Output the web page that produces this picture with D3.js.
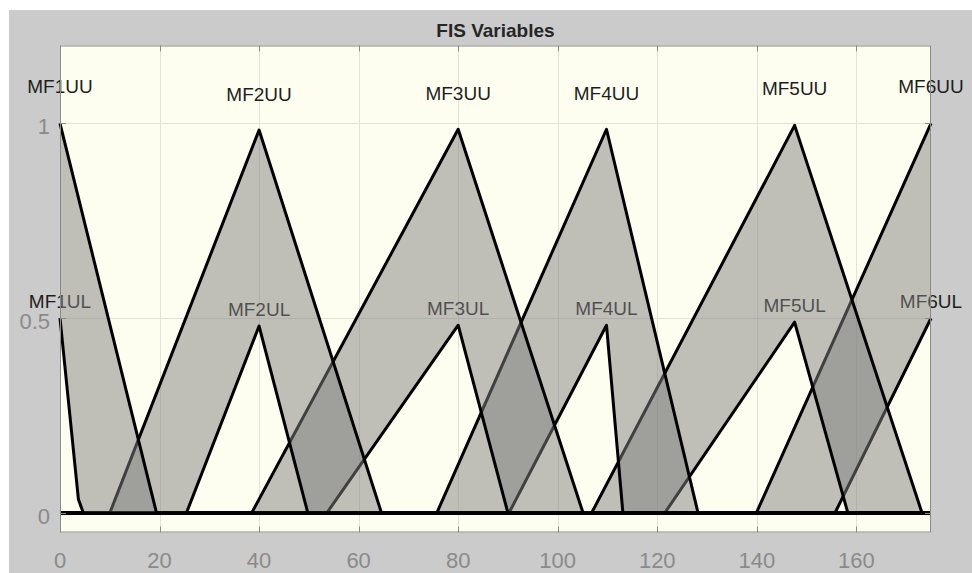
<!DOCTYPE html>
<html>
<head>
<meta charset="utf-8">
<script src="https://cdn.jsdelivr.net/npm/d3@7"></script>
<style>
  html, body { margin: 0; padding: 0; background: #ffffff; }
  svg { display: block; }
  text { font-family: "Liberation Sans", Arial, Helvetica, sans-serif; }
</style>
</head>
<body>
<svg id="chart" width="972" height="573"></svg>
<script>
// ---------------- data ----------------
const chartTitle = "FIS Variables";
const mfNames = ["MF1", "MF2", "MF3", "MF4", "MF5", "MF6"];
// upper membership functions: [x, membership] vertices
const upperMF = [
  [[0, 1], [19.4, 0]],
  [[10.0, 0], [40, 0.983], [64.6, 0]],
  [[38.5, 0], [80, 0.985], [105.1, 0]],
  [[75.7, 0], [109.8, 0.985], [128.2, 0]],
  [[106.8, 0], [147.6, 0.995], [173.2, 0]],
  [[139.9, 0], [175, 1]]
];
// lower membership functions: [x, membership] vertices
const lowerMF = [
  [[0, 0.5], [3.7, 0.035], [4.7, 0]],
  [[25.4, 0], [40, 0.48], [49.8, 0]],
  [[53.6, 0], [80, 0.482], [90.0, 0]],
  [[90.2, 0], [109.8, 0.482], [113.1, 0]],
  [[121.5, 0], [147.6, 0.49], [158.3, 0]],
  [[155.7, 0], [175, 0.5]]
];
const xDomain = [0, 175];
const yDomain = [-0.05, 1.2];
const xTicks = [0, 20, 40, 60, 80, 100, 120, 140, 160];
const yTicks = [0, 0.5, 1];
const yTickLabels = ["0", "0.5", "1"];

// ---------------- layout ----------------
const svg = d3.select("#chart");
const L = 60, R = 931, T = 45.5, B = 532.5;
const x = d3.scaleLinear().domain(xDomain).range([L, R]);
const y = d3.scaleLinear().domain(yDomain).range([B, T]);

// figure background
svg.append("rect").attr("x", 9).attr("y", 10).attr("width", 963).attr("height", 563).attr("fill", "#cbcbcb");
// axes background
svg.append("rect").attr("x", L).attr("y", T).attr("width", R - L).attr("height", B - T).attr("fill", "#fefef0");

// grid
const grid = svg.append("g").attr("stroke", "#e2e2d6").attr("stroke-width", 1);
grid.selectAll("line.vx").data(xTicks).join("line")
  .attr("x1", d => Math.round(x(d)) + 0.5).attr("x2", d => Math.round(x(d)) + 0.5)
  .attr("y1", T).attr("y2", B);
grid.selectAll("line.hy").data(yTicks).join("line")
  .attr("y1", d => Math.round(y(d)) + 0.5).attr("y2", d => Math.round(y(d)) + 0.5)
  .attr("x1", L).attr("x2", R);

// labels (drawn beneath the patches)
const labelG = svg.append("g").attr("font-size", 19).attr("fill", "#1e1e1e").attr("text-anchor", "middle");
function peakOf(pts) { return pts.reduce((a, b) => (b[1] > a[1] ? b : a)); }
mfNames.forEach((n, i) => {
  const pu = peakOf(upperMF[i]);
  const pl = peakOf(lowerMF[i]);
  labelG.append("text").attr("x", x(pu[0])).attr("y", y(pu[1] * 1.095)).attr("dy", "0.36em").text(n + "UU");
  labelG.append("text").attr("x", x(pl[0])).attr("y", y(pl[1] * 1.09)).attr("dy", "0.36em").text(n + "UL");
});

// membership functions
function fullPath(pts) {
  const p = pts.slice();
  if (p[0][0] > xDomain[0]) p.unshift([xDomain[0], 0]);
  if (p[p.length - 1][0] < xDomain[1]) p.push([xDomain[1], 0]);
  return p;
}
const line = d3.line().x(d => x(d[0])).y(d => y(d[1]));
const mfG = svg.append("g");
for (let i = mfNames.length - 1; i >= 0; i--) {
  const up = fullPath(upperMF[i]);
  const lo = fullPath(lowerMF[i]);
  const poly = up.concat(lo.slice().reverse());
  mfG.append("path").attr("d", line(poly) + "Z")
    .attr("fill", "#808080").attr("fill-opacity", 0.5).attr("stroke", "none");
  [up, lo].forEach(p => {
    mfG.append("path").attr("d", line(p))
      .attr("fill", "none").attr("stroke", "#000").attr("stroke-width", 3)
      .attr("stroke-linejoin", "round").attr("stroke-linecap", "butt");
  });
}

// axes box and ticks
const axG = svg.append("g").attr("stroke", "#8a8a8a").attr("stroke-width", 1).attr("fill", "none");
axG.append("rect").attr("x", L + 0.5).attr("y", T + 0.5).attr("width", R - L - 1).attr("height", B - T - 1);
const tl = 6;
xTicks.forEach(t => {
  const px = Math.round(x(t)) + 0.5;
  axG.append("line").attr("x1", px).attr("x2", px).attr("y1", B).attr("y2", B - tl);
  axG.append("line").attr("x1", px).attr("x2", px).attr("y1", T).attr("y2", T + tl);
});
yTicks.forEach(t => {
  const py = Math.round(y(t)) + 0.5;
  axG.append("line").attr("x1", L).attr("x2", L + tl).attr("y1", py).attr("y2", py);
  axG.append("line").attr("x1", R).attr("x2", R - tl).attr("y1", py).attr("y2", py);
});

// tick labels
const tickG = svg.append("g").attr("font-size", 22).attr("fill", "#8a8a8a");
tickG.selectAll("text.xt").data(xTicks).join("text")
  .attr("x", d => x(d)).attr("y", 560).attr("dy", "0.36em").attr("text-anchor", "middle")
  .text(d => d);
tickG.selectAll("text.yt").data(yTicks).join("text")
  .attr("x", 50).attr("y", d => y(d) + 3).attr("dy", "0.36em").attr("text-anchor", "end")
  .text((d, i) => yTickLabels[i]);

// title
svg.append("text").attr("x", (L + R) / 2).attr("y", 30).attr("dy", "0.36em")
  .attr("text-anchor", "middle").attr("font-size", 19).attr("font-weight", "bold")
  .attr("fill", "#262626").text(chartTitle);
</script>
</body>
</html>
